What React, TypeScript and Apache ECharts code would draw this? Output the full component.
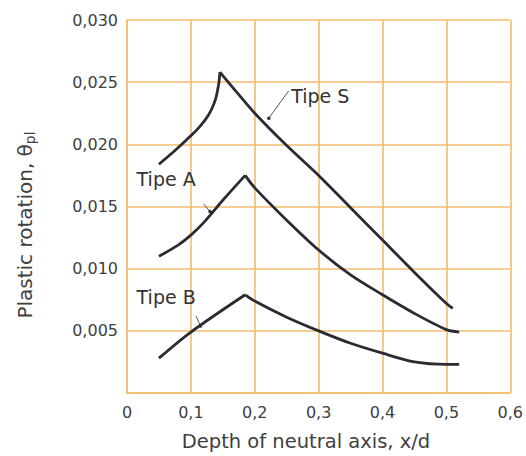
import React, { useEffect, useRef } from 'react';
import * as echarts from 'echarts';

// Tick values
const xTickValues = [0, 0.1, 0.2, 0.3, 0.4, 0.5, 0.6];
const yTickValues = [0, 0.005, 0.01, 0.015, 0.02, 0.025, 0.03];

// Curves [x/d, θpl]
const tipeS: [number, number][] = [
  [0.05, 0.0184], [0.073, 0.0194], [0.09, 0.0202], [0.1, 0.0207], [0.11, 0.0212],
  [0.12, 0.0218], [0.128, 0.0224], [0.134, 0.023], [0.139, 0.0237], [0.142, 0.0244],
  [0.144, 0.025], [0.1455, 0.0258],
  [0.17, 0.0243], [0.2, 0.0225], [0.25, 0.0199], [0.3, 0.0175], [0.35, 0.0149],
  [0.4, 0.0123], [0.45, 0.0097], [0.5, 0.0072], [0.51, 0.0068],
];
const tipeA: [number, number][] = [
  [0.05, 0.011], [0.08, 0.0119], [0.1, 0.0127], [0.12, 0.0137], [0.15, 0.0155], [0.185, 0.0175],
  [0.2, 0.0165], [0.25, 0.0139], [0.3, 0.0115], [0.35, 0.0095], [0.4, 0.0079],
  [0.45, 0.0064], [0.5, 0.0051], [0.52, 0.0049],
];
const tipeB: [number, number][] = [
  [0.05, 0.0028], [0.1, 0.0049], [0.185, 0.0079],
  [0.2, 0.0074], [0.25, 0.0061], [0.3, 0.005], [0.35, 0.004], [0.4, 0.0032],
  [0.45, 0.0025], [0.5, 0.0023], [0.52, 0.0023],
];

// Annotations (data coordinates)
const labelNames = ['Tipe S', 'Tipe A', 'Tipe B'];
const labelAnchors: [number, number][] = [[0.257, 0.0239], [0.015, 0.0172], [0.015, 0.0077]];
const leaderFrom: [number, number][] = [[0.253, 0.0243], [0.12, 0.0152], [0.108, 0.0062]];
const leaderTo: [number, number][] = [[0.222, 0.0221], [0.13, 0.0146], [0.115, 0.0054]];

const xName = 'Depth of neutral axis, x/d';
const yName = 'Plastic rotation, θ';
const ySub = 'pl';

const GRID_COLOR = '#f2bd6e';
const LINE_COLOR = '#2b2b33';
const TEXT_COLOR = '#404040';
const FONT = 'DejaVu Sans, Arial, sans-serif';

function split(data: [number, number][]) {
  let pk = 0;
  data.forEach((d, i) => { if (d[1] > data[pk][1]) pk = i; });
  return [data.slice(0, pk + 1), data.slice(pk)];
}

export default function App() {
  const ref = useRef<HTMLDivElement>(null);
  useEffect(() => {
    if (!ref.current) return;
    const chart = echarts.init(ref.current, null, { renderer: 'svg' });
    const series: any[] = [];
    [tipeS, tipeA, tipeB].forEach((d) => {
      split(d).forEach((part) => {
        series.push({
          type: 'line', data: part, smooth: 0.3, symbol: 'none',
          lineStyle: { color: LINE_COLOR, width: 2.8 }, silent: true,
        });
      });
    });
    chart.setOption({
      animation: false,
      backgroundColor: '#ffffff',
      grid: { left: 127, right: 13, top: 20, bottom: 63, containLabel: false },
      xAxis: {
        type: 'value', min: xTickValues[0], max: xTickValues[xTickValues.length - 1], interval: 0.1,
        axisLine: { show: true, lineStyle: { color: GRID_COLOR, width: 1.6 } },
        axisTick: { show: false },
        splitLine: { show: true, lineStyle: { color: GRID_COLOR, width: 1.6 } },
        axisLabel: {
          color: TEXT_COLOR, fontFamily: FONT, fontSize: 16, margin: 11,
          formatter: (v: number) => (v === 0 ? '0' : v.toFixed(1).replace('.', ',')),
        },
      },
      yAxis: {
        type: 'value', min: yTickValues[0], max: yTickValues[yTickValues.length - 1], interval: 0.005,
        axisLine: { show: true, lineStyle: { color: GRID_COLOR, width: 1.6 } },
        axisTick: { show: false },
        splitLine: { show: true, lineStyle: { color: GRID_COLOR, width: 1.6 } },
        axisLabel: {
          color: TEXT_COLOR, fontFamily: FONT, fontSize: 16, margin: 9,
          formatter: (v: number) => (v === 0 ? '' : v.toFixed(3).replace('.', ',')),
        },
      },
      series,
    });

    const graphics: any[] = [];
    labelNames.forEach((name, i) => {
      const p = chart.convertToPixel({ gridIndex: 0 }, labelAnchors[i]) as number[];
      graphics.push({
        type: 'text', x: p[0], y: p[1],
        style: { text: name, fill: '#333', font: `19px ${FONT}`, textAlign: 'left', textVerticalAlign: 'middle' },
      });
      const a = chart.convertToPixel({ gridIndex: 0 }, leaderFrom[i]) as number[];
      const b = chart.convertToPixel({ gridIndex: 0 }, leaderTo[i]) as number[];
      graphics.push({
        type: 'line', shape: { x1: a[0], y1: a[1], x2: b[0], y2: b[1] },
        style: { stroke: '#555', lineWidth: 1 },
      });
      graphics.push({ type: 'circle', shape: { cx: b[0], cy: b[1], r: 1.8 }, style: { fill: '#333' } });
    });
    graphics.push({
      type: 'text', x: 306, y: 441,
      style: { text: xName, fill: TEXT_COLOR, font: `19.5px ${FONT}`, textAlign: 'center', textVerticalAlign: 'middle' },
    });
    graphics.push({
      type: 'text', x: 25, y: 225, rotation: Math.PI / 2,
      style: {
        text: yName + '{sub|' + ySub + '}', fill: TEXT_COLOR, fontFamily: FONT, fontSize: 20,
        align: 'center', verticalAlign: 'middle', lineHeight: 24,
        rich: { sub: { fontSize: 14, fontFamily: FONT, fill: TEXT_COLOR, verticalAlign: 'bottom', lineHeight: 24, padding: [11, 0, 0, 0] } },
      },
    });
    chart.setOption({ graphic: graphics });
    return () => chart.dispose();
  }, []);
  return <div ref={ref} style={{ position: 'fixed', left: 0, top: 0, width: 526, height: 456 }} />;
}
